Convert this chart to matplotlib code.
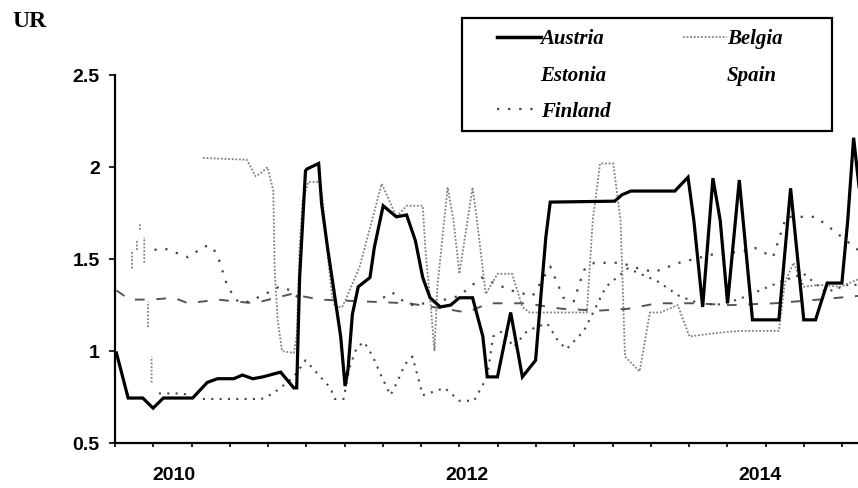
import numpy as np
import matplotlib as mpl
import matplotlib.pyplot as plt
from matplotlib.lines import Line2D
from matplotlib.patches import Rectangle

mpl.rcParams["font.family"] = "Liberation Sans"
mpl.rcParams["font.weight"] = "bold"
mpl.rcParams["axes.spines.top"] = False
mpl.rcParams["axes.spines.right"] = False

nan = np.nan

# series (time in decimal years, rate values)
austria_t = [2009.61, 2009.69, 2009.79, 2009.86, 2009.93, 2010.13, 2010.23, 2010.30,
             2010.41, 2010.47, 2010.54, 2010.61, 2010.73, 2010.82, 2010.84, 2010.86,
             2010.90, 2010.91, 2010.99, 2011.01, 2011.05, 2011.09, 2011.14, 2011.17,
             2011.19, 2011.22, 2011.26, 2011.34, 2011.37, 2011.43, 2011.52, 2011.59,
             2011.65, 2011.70, 2011.75, 2011.82, 2011.89, 2011.95, 2012.04, 2012.11,
             2012.14, 2012.21, 2012.30, 2012.38, 2012.47, 2012.50, 2012.54, 2012.57,
             2013.01, 2013.06, 2013.12, 2013.42, 2013.51, 2013.55, 2013.61, 2013.68,
             2013.73, 2013.78, 2013.86, 2013.95, 2014.13, 2014.21, 2014.30, 2014.38,
             2014.46, 2014.56, 2014.60, 2014.64, 2014.69]
austria_v = [0.99, 0.745, 0.745, 0.69, 0.745, 0.745, 0.83, 0.85,
             0.85, 0.87, 0.85, 0.86, 0.886, 0.80, 0.80, 1.40,
             1.98, 1.99, 2.02, 1.80, 1.565, 1.35, 1.08, 0.81,
             0.90, 1.20, 1.35, 1.40, 1.565, 1.79, 1.73, 1.74,
             1.60, 1.40, 1.29, 1.24, 1.25, 1.29, 1.29, 1.08,
             0.86, 0.86, 1.21, 0.86, 0.95, 1.24, 1.62, 1.81,
             1.815, 1.85, 1.87, 1.87, 1.945, 1.71, 1.24, 1.94,
             1.71, 1.26, 1.93, 1.17, 1.17, 1.885, 1.17, 1.17,
             1.37, 1.37, 1.71, 2.16, 1.80]

belgia_t = [2009.716, 2009.716, nan, 2009.75, 2009.75, nan, 2009.77, 2009.77, nan,
            2009.80, 2009.80, nan, 2009.825, 2009.825, nan, 2009.85, 2009.85, nan,
            2010.20, 2010.50, 2010.56, 2010.60, 2010.64, 2010.68, 2010.69, 2010.71,
            2010.74, 2010.82, 2010.84, 2010.86, 2010.88, 2010.92, 2011.00, 2011.02,
            2011.05, 2011.08, 2011.10, 2011.15, 2011.18, 2011.27, 2011.36, 2011.42,
            2011.46, 2011.52, 2011.59, 2011.70, 2011.72, 2011.75, 2011.78, 2011.80,
            2011.87, 2011.91, 2011.95, 2012.04, 2012.07, 2012.13, 2012.21, 2012.31,
            2012.38, 2012.43, 2012.82, 2012.86, 2012.91, 2013.00, 2013.05, 2013.07,
            2013.08, 2013.18, 2013.25, 2013.32, 2013.44, 2013.52, 2013.72, 2013.87,
            2014.13, 2014.17, 2014.23, 2014.30, 2014.41, 2014.55, 2014.67]
belgia_v = [1.45, 1.55, nan, 1.55, 1.60, nan, 1.66, 1.69, nan,
            1.48, 1.62, nan, 1.13, 1.27, nan, 0.83, 0.97, nan,
            2.05, 2.04, 1.95, 1.97, 2.00, 1.875, 1.44, 1.17,
            1.00, 0.99, 1.08, 1.565, 1.82, 1.92, 1.92, 1.80,
            1.53, 1.31, 1.24, 1.24, 1.29, 1.46, 1.73, 1.91,
            1.84, 1.73, 1.79, 1.79, 1.53, 1.29, 1.00, 1.35,
            1.89, 1.71, 1.42, 1.89, 1.71, 1.31, 1.42, 1.42,
            1.24, 1.21, 1.21, 1.71, 2.02, 2.02, 1.71, 1.22,
            0.97, 0.89, 1.21, 1.21, 1.25, 1.08, 1.10, 1.11,
            1.11, 1.37, 1.48, 1.35, 1.36, 1.35, 1.39]

estonia_t = [2009.61, 2009.70, 2009.85, 2010.00, 2010.10, 2010.30, 2010.55, 2010.80,
             2011.00, 2011.30, 2011.60, 2011.85, 2012.00, 2012.15, 2012.40, 2012.65,
             2012.90, 2013.10, 2013.30, 2013.55, 2013.80, 2014.10, 2014.40, 2014.67]
estonia_v = [1.33, 1.28, 1.28, 1.29, 1.26, 1.28, 1.26, 1.31,
             1.28, 1.27, 1.26, 1.23, 1.21, 1.26, 1.26, 1.23,
             1.22, 1.23, 1.26, 1.26, 1.25, 1.26, 1.28, 1.30]

spain_t = [2009.90, 2010.05, 2010.12, nan, 2010.20, 2010.60, 2010.68, 2010.76,
           2010.82, 2010.90, 2011.07, 2011.10, 2011.16, 2011.20, 2011.25, 2011.30,
           2011.36, 2011.42, 2011.48, 2011.53, 2011.58, 2011.63, 2011.70, 2011.85,
           2011.95, 2012.05, 2012.14, 2012.18, 2012.25, 2012.32, 2012.40, 2012.47,
           2012.55, 2012.62, 2012.68, 2012.80, 2012.95, 2013.10, 2013.30, 2013.45,
           2013.55, 2013.70, 2013.85, 2014.00, 2014.15, 2014.30, 2014.45, 2014.60,
           2014.67]
spain_v = [0.77, 0.77, 0.76, nan, 0.74, 0.74, 0.77, 0.82,
           0.86, 0.95, 0.80, 0.74, 0.74, 0.91, 1.02, 1.05,
           0.97, 0.86, 0.76, 0.84, 0.93, 0.97, 0.76, 0.80,
           0.73, 0.73, 0.86, 1.08, 1.11, 1.02, 1.10, 1.13,
           1.15, 1.06, 1.01, 1.11, 1.35, 1.45, 1.38, 1.30,
           1.27, 1.25, 1.28, 1.33, 1.38, 1.42, 1.32, 1.36,
           1.36]

finland_t = [2009.87, 2009.93, 2010.10, 2010.21, 2010.26, 2010.30, 2010.36, 2010.42,
             2010.48, 2010.60, 2010.72, 2010.80, 2010.85, nan, 2011.43, 2011.49,
             2011.57, 2011.63, 2011.80, 2011.95, 2012.10, 2012.30, 2012.45, 2012.57,
             2012.66, 2012.73, 2012.80, 2012.87, 2013.05, 2013.17, 2013.28, 2013.45,
             2013.70, 2013.88, 2013.97, 2014.09, 2014.18, 2014.38, 2014.48, 2014.67]
finland_v = [1.55, 1.56, 1.51, 1.57, 1.57, 1.52, 1.37, 1.28,
             1.26, 1.30, 1.35, 1.33, 1.29, nan, 1.29, 1.32,
             1.27, 1.25, 1.27, 1.30, 1.40, 1.33, 1.30, 1.46,
             1.29, 1.27, 1.44, 1.48, 1.48, 1.45, 1.43, 1.48,
             1.53, 1.54, 1.56, 1.51, 1.73, 1.73, 1.67, 1.55]

year_labels = [2010, 2012, 2014]

fig = plt.figure(figsize=(8.58, 4.88), dpi=100)
ax = fig.add_axes([0.134, 0.092, 0.866, 0.754])

ax.plot(estonia_t, estonia_v, color="#555555", lw=1.4, dashes=(5, 6))
ax.plot(spain_t, spain_v, color="#444444", lw=1.5, dashes=(1, 3))
ax.plot(finland_t, finland_v, color="#444444", lw=1.6, dashes=(1, 4))
ax.plot(belgia_t, belgia_v, color="#808080", lw=1.3, dashes=(1, 1))
ax.plot(austria_t, austria_v, color="black", lw=2.3, solid_joinstyle="miter")

ax.set_ylim(0.5, 2.5)
ax.set_xlim(2009.6, 2014.67)
ax.set_yticks([0.5, 1, 1.5, 2, 2.5])
ax.set_yticklabels(["0.5", "1", "1.5", "2", "2.5"])
ax.tick_params(axis="y", length=4, width=1.2, pad=7, labelsize=14)

ax.set_xticks(2009.6 + 0.2612 * np.arange(20))
ax.set_xticklabels([])
ax.set_xticks(year_labels, minor=True)
ax.set_xticklabels([str(y) for y in year_labels], minor=True)
ax.tick_params(axis="x", which="major", length=3, width=1.2)
ax.tick_params(axis="x", which="minor", length=0, pad=17, labelsize=14)

for side in ["left", "bottom"]:
    ax.spines[side].set_linewidth(1.6)

fig.text(0.014, 0.955, "UR", family="Liberation Serif", fontweight="bold",
         fontsize=17, va="center", ha="left")

# legend box drawn separately so the keys can sit well inside it
fig.patches.append(Rectangle((0.538, 0.732), 0.432, 0.231, transform=fig.transFigure,
                             fill=False, edgecolor="black", lw=1.6))

# Estonia and Spain have no visible key
blank = dict(linestyle="none", marker=None)
handles = [
    Line2D([], [], color="black", lw=2.5),
    Line2D([], [], **blank),
    Line2D([], [], color="#444444", lw=1.6, dashes=(1, 4)),
    Line2D([], [], color="#808080", lw=1.3, dashes=(1, 1)),
    Line2D([], [], **blank),
]
labels = ["Austria", "Estonia", "Finland", "Belgia", "Spain"]
fig.legend(handles, labels, ncol=2, loc="upper left",
           bbox_to_anchor=(0.579, 0.940), frameon=False,
           handlelength=2.1, handletextpad=0.0, labelspacing=0.78,
           borderaxespad=0, borderpad=0, columnspacing=3.5,
           prop=dict(family="Liberation Serif", style="italic",
                     weight="bold", size=15))

fig.savefig("out.png", dpi=100)
